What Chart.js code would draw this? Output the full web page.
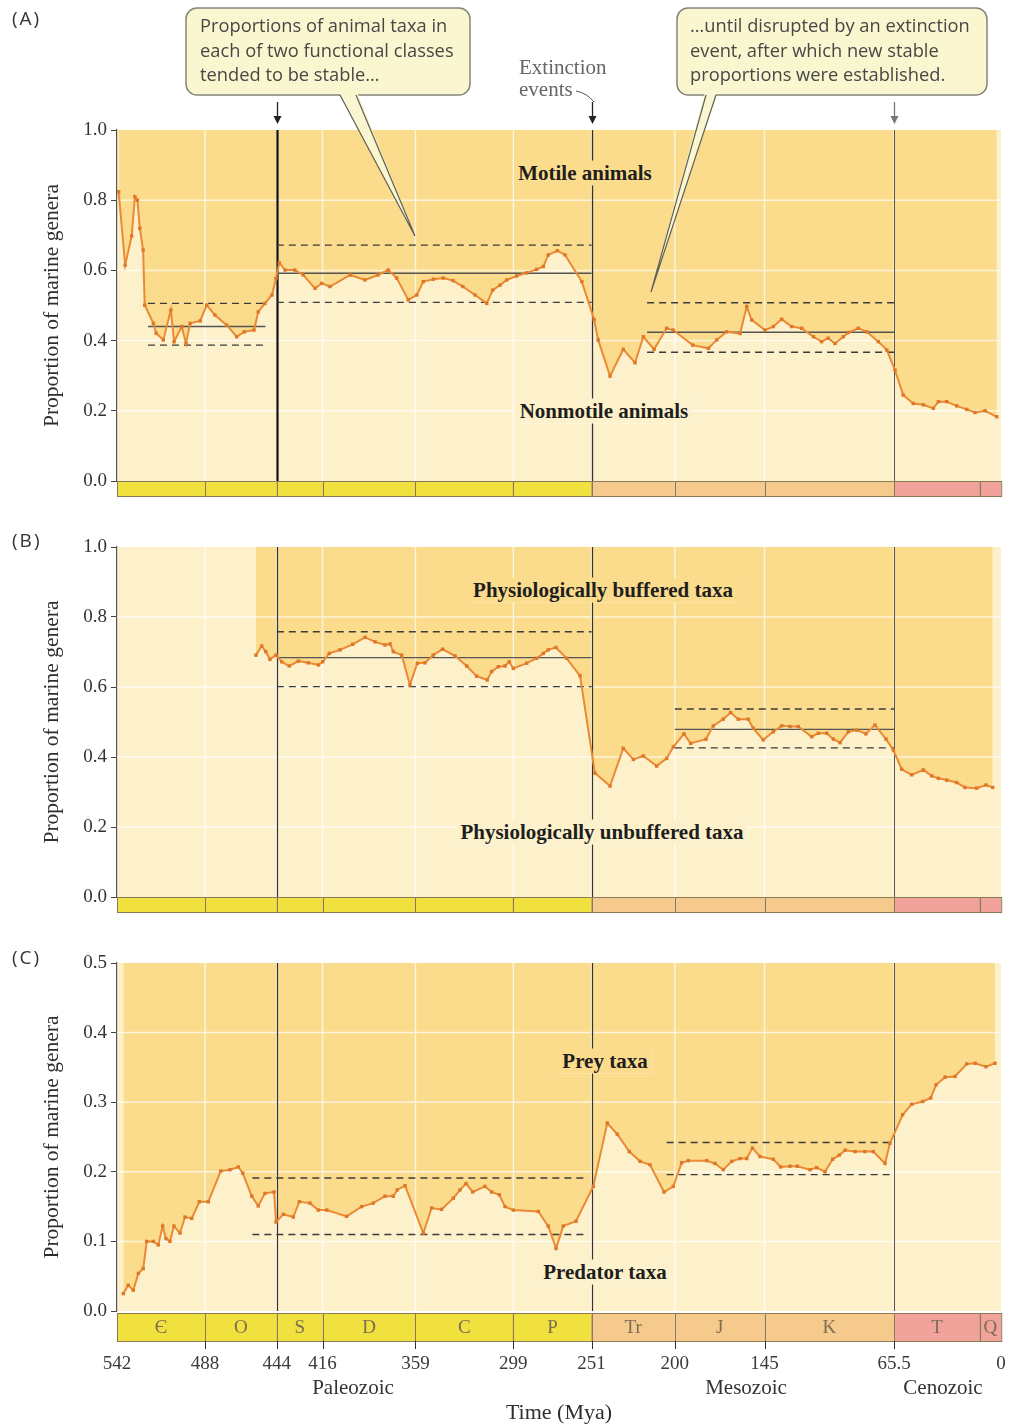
<!DOCTYPE html>
<html lang="en">
<head>
    <meta charset="UTF-8">
    <title>Functional classes of marine genera through the Phanerozoic</title>
    <script src="https://cdn.jsdelivr.net/npm/chart.js"></script>
    <style>
        body { margin: 0; background: #fff; }
        .page { position: relative; width: 1014px; height: 1427px; overflow: hidden; }
        .panel { position: absolute; left: 0; width: 1014px; }
        .tag { position: absolute; left: 12px; transform: translateY(-50%); font: 19px "Open Sans", sans-serif; letter-spacing: 2px; color: #333; }
        .series { position: absolute; transform: translate(-50%, -50%); font: bold 21px "Liberation Serif", serif; color: #1e1e1e; white-space: nowrap; padding: 0 4px; }
        .series.up { background: #fbdb8c; }
        .series.down { background: #fdf1cb; }
        .era { position: absolute; transform: translate(-50%, -50%); font: 21px "Liberation Serif", serif; color: #333; white-space: nowrap; }
        svg.notes { position: absolute; left: 0; top: 0; pointer-events: none; }
    </style>
</head>
<body>
<div class="page">
    <div class="panel" style="top:0; height:520px;"><canvas id="chartA"></canvas></div>
    <div class="panel" style="top:520px; height:420px;"><canvas id="chartB"></canvas></div>
    <div class="panel" style="top:940px; height:487px;"><canvas id="chartC"></canvas></div>

    <div class="tag" style="top:18px;">(A)</div>
    <div class="tag" style="top:540px;">(B)</div>
    <div class="tag" style="top:957px;">(C)</div>

    <div class="series up" style="left:585px; top:173px;">Motile animals</div>
    <div class="series down" style="left:604px; top:411px;">Nonmotile animals</div>
    <div class="series up" style="left:603px; top:590px;">Physiologically buffered taxa</div>
    <div class="series down" style="left:602px; top:832px;">Physiologically unbuffered taxa</div>
    <div class="series up" style="left:605px; top:1061px;">Prey taxa</div>
    <div class="series down" style="left:605px; top:1272px;">Predator taxa</div>

    <div class="era" style="left:353px; top:1387px;">Paleozoic</div>
    <div class="era" style="left:746px; top:1387px;">Mesozoic</div>
    <div class="era" style="left:943px; top:1387px;">Cenozoic</div>

    <svg class="notes" width="1014" height="320">
        <!-- left callout -->
        <rect x="186" y="8" width="284" height="87" rx="11" fill="#faf6cf" stroke="#85857a" stroke-width="1.5"/>
        <polygon points="339,92 357,92 415,236" fill="#faf6cf"/>
        <path d="M340,95 L415,236 L356,95" fill="none" stroke="#5e5e58" stroke-width="1.2"/>
        <g font-family="Open Sans, sans-serif" font-size="18.3" fill="#474747">
            <text x="200" y="32">Proportions of animal taxa in</text>
            <text x="200" y="57">each of two functional classes</text>
            <text x="200" y="81">tended to be stable…</text>
        </g>
        <!-- right callout -->
        <rect x="677" y="8" width="310" height="87" rx="11" fill="#faf6cf" stroke="#85857a" stroke-width="1.5"/>
        <polygon points="705,92 717,92 651,292" fill="#faf6cf"/>
        <path d="M706,95 L651,292 L716,95" fill="none" stroke="#5e5e58" stroke-width="1.2"/>
        <g font-family="Open Sans, sans-serif" font-size="18.3" fill="#474747">
            <text x="690" y="32">…until disrupted by an extinction</text>
            <text x="690" y="57">event, after which new stable</text>
            <text x="690" y="81">proportions were established.</text>
        </g>
        <!-- extinction events note -->
        <g font-family="Liberation Serif, serif" font-size="21" fill="#666">
            <text x="519" y="74">Extinction</text>
            <text x="519" y="96">events</text>
        </g>
        <path d="M576,91 Q587,93 594,102" fill="none" stroke="#555" stroke-width="1"/>
    </svg>
</div>

<script>
    // Geologic time scale (Mya)
    const periodStart = [542, 488, 444, 416, 359, 299, 251, 200, 145, 65.5, 13];
    const periodEnd = [488, 444, 416, 359, 299, 251, 200, 145, 65.5, 13, 0];
    const periodSymbol = ['Є', 'O', 'S', 'D', 'C', 'P', 'Tr', 'J', 'K', 'T', 'Q'];
    const periodEra = ['Pz', 'Pz', 'Pz', 'Pz', 'Pz', 'Pz', 'Mz', 'Mz', 'Mz', 'Cz', 'Cz'];
    const timeTicks = [542, 488, 444, 416, 359, 299, 251, 200, 145, 65.5, 0];
    const extinctions = [444, 251, 65.5];

    // (A) proportion of motile genera
    const motileTime = [541, 537, 533, 531, 529.5, 528, 526, 525, 519.7, 518, 513.6, 509, 507, 502.3, 499.7, 497.2, 491, 487, 482, 474.7,
        468.6, 464, 458, 455.4, 451.3, 447, 444.5, 442.5, 439, 433, 427.8, 420.6, 416.5, 411.4, 399, 390, 382, 375.7, 370.5, 363.4,
        358.2, 354.2, 348, 342, 336, 330, 322.5, 315.3, 311.6, 307.2, 303, 297, 291, 284.7, 280.6, 277.6, 272, 267.3, 257, 249.5,
        247, 239.7, 231.6, 224.4, 219.3, 212.7, 205, 201, 189, 179.4, 174.3, 168.2, 160, 155.9, 152.9, 144.7, 139.6, 134.5, 128.4, 122.2,
        115, 110, 106, 101.8, 96.7, 93.6, 87.5, 82.3, 75.2, 70, 65, 60, 53.8, 47.6, 41.5, 38.4, 33.3, 27.2, 21, 15.9, 9.8, 2.6];
    const motileShare = [0.824, 0.615, 0.698, 0.81, 0.80, 0.72, 0.658, 0.501, 0.449, 0.421, 0.402, 0.487, 0.397, 0.44, 0.392, 0.449, 0.456, 0.501, 0.473, 0.444,
        0.411, 0.425, 0.43, 0.482, 0.506, 0.53, 0.577, 0.622, 0.601, 0.601, 0.587, 0.549, 0.563, 0.554, 0.587, 0.573, 0.587, 0.601, 0.578, 0.516,
        0.53, 0.568, 0.575, 0.578, 0.571, 0.554, 0.53, 0.506, 0.544, 0.558, 0.573, 0.584, 0.593, 0.603, 0.611, 0.644, 0.656, 0.644, 0.568, 0.46,
        0.402, 0.299, 0.375, 0.337, 0.411, 0.375, 0.435, 0.43, 0.387, 0.378, 0.402, 0.425, 0.42, 0.497, 0.459, 0.43, 0.44, 0.461, 0.44, 0.435,
        0.411, 0.397, 0.407, 0.392, 0.411, 0.423, 0.435, 0.425, 0.397, 0.373, 0.316, 0.245, 0.221, 0.217, 0.207, 0.226, 0.226, 0.214, 0.204, 0.195, 0.2, 0.183];
    const motileBandStart = [523, 444, 217];
    const motileBandEnd = [451, 251, 65.5];
    const motileMean = [0.44, 0.592, 0.424];
    const motileLow = [0.387, 0.509, 0.367];
    const motileHigh = [0.506, 0.672, 0.508];

    // (B) proportion of physiologically buffered genera
    const bufferedTime = [456.8, 453.3, 450.8, 448.2, 444.5, 441, 436.4, 430.8, 424.7, 418.5, 415.9, 411.8, 405.3, 397.5, 389.9, 383.8, 377.7, 374.6, 372.6, 367.4,
        362.4, 357.9, 353.2, 348.1, 342.4, 334.8, 327.6, 321.5, 315, 312.3, 308.2, 304.1, 301.5, 299, 290.8, 284.7, 280.6, 277.6, 272.9, 266.3,
        258.1, 249, 239.7, 231.6, 225.4, 219.3, 211.1, 205, 200.9, 194.4, 190.3, 180.9, 176.4, 170.3, 165.8, 161.1, 155, 151.9, 145.8, 139.6,
        134.5, 129.4, 124.3, 116.1, 112, 106.9, 102.8, 98.7, 93.6, 88.5, 82.8, 77.3, 70.5, 66, 60.9, 54.8, 47.6, 42.5, 38.4, 33.3,
        27.2, 22.1, 14.9, 9.2, 5.1];
    const bufferedShare = [0.691, 0.717, 0.701, 0.679, 0.691, 0.672, 0.66, 0.674, 0.669, 0.663, 0.672, 0.696, 0.706, 0.722, 0.742, 0.729, 0.72, 0.723, 0.701, 0.691,
        0.606, 0.668, 0.669, 0.691, 0.708, 0.689, 0.66, 0.631, 0.62, 0.644, 0.658, 0.66, 0.672, 0.653, 0.668, 0.682, 0.696, 0.706, 0.713, 0.682,
        0.632, 0.354, 0.317, 0.425, 0.393, 0.403, 0.374, 0.396, 0.429, 0.466, 0.439, 0.451, 0.489, 0.508, 0.527, 0.508, 0.508, 0.482, 0.449, 0.472,
        0.489, 0.487, 0.487, 0.458, 0.468, 0.468, 0.451, 0.441, 0.472, 0.477, 0.466, 0.491, 0.451, 0.42, 0.365, 0.349, 0.363, 0.346, 0.339, 0.334,
        0.327, 0.313, 0.311, 0.32, 0.313];
    const bufferedBandStart = [444, 200];
    const bufferedBandEnd = [251, 65.5];
    const bufferedMean = [0.684, 0.479];
    const bufferedLow = [0.601, 0.426];
    const bufferedHigh = [0.758, 0.537];

    // (C) proportion of predator genera
    const predatorTime = [538.1, 535.1, 532, 528.9, 525.9, 523.8, 519.7, 516.7, 514, 512, 509.5, 507.1, 503.4, 500.3, 496.2, 491.5, 486, 478.4, 472.7, 467.6,
        464.9, 459.4, 455.4, 451.3, 445.7, 444.5, 440, 433.9, 430.2, 423.7, 418.6, 413.4, 401.2, 392, 384.9, 377.7, 372.6, 370.2, 365.4, 354.2,
        349.1, 343, 335.8, 331.7, 328, 323.9, 316.4, 312.3, 307.6, 304.1, 299, 283.7, 277.6, 272.8, 268.4, 260.6, 250, 241.4, 235.3, 227.9,
        221.3, 215.2, 206.6, 200.9, 195.8, 191.7, 180.4, 175.4, 170.3, 165.1, 160, 155.9, 152.4, 147.8, 139.6, 135.1, 129.4, 124.9, 117.1, 113,
        107.9, 103.2, 99.1, 95.6, 89.5, 83.4, 78.3, 71.1, 68.1, 60.3, 54.8, 48, 43.1, 39.8, 34.3, 28.2, 21, 15.9, 9.2, 3.7];
    const predatorShare = [0.025, 0.037, 0.03, 0.054, 0.061, 0.1, 0.1, 0.095, 0.122, 0.104, 0.1, 0.122, 0.112, 0.135, 0.133, 0.157, 0.157, 0.201, 0.203, 0.207,
        0.198, 0.165, 0.151, 0.169, 0.171, 0.128, 0.139, 0.135, 0.157, 0.155, 0.145, 0.145, 0.136, 0.15, 0.155, 0.165, 0.165, 0.174, 0.18, 0.112,
        0.148, 0.146, 0.162, 0.174, 0.183, 0.171, 0.179, 0.171, 0.167, 0.15, 0.145, 0.143, 0.122, 0.09, 0.122, 0.129, 0.179, 0.27, 0.254, 0.229,
        0.215, 0.21, 0.171, 0.179, 0.213, 0.216, 0.216, 0.212, 0.203, 0.215, 0.219, 0.219, 0.234, 0.222, 0.218, 0.207, 0.208, 0.208, 0.203, 0.206,
        0.2, 0.218, 0.224, 0.231, 0.229, 0.229, 0.229, 0.212, 0.241, 0.282, 0.297, 0.301, 0.306, 0.325, 0.336, 0.337, 0.355, 0.356, 0.351, 0.356];
    const predatorBandStart = [459, 205];
    const predatorBandEnd = [253, 65.5];
    const predatorMean = [null, null]; // no mean line drawn in (C)
    const predatorLow = [0.11, 0.196];
    const predatorHigh = [0.191, 0.242];

    const eraColor = { Pz: '#f1e13f', Mz: '#f6c98d', Cz: '#f1a39b' };
    const serif = 'Liberation Serif, serif';

    function points(t, v) {
        return t.map((x, i) => ({ x: x, y: v[i] }));
    }

    function refLine(from, to, y, dash) {
        return {
            data: [{ x: from, y: y }, { x: to, y: y }],
            borderColor: dash.length ? '#3c3c3c' : '#555',
            borderWidth: 1.4,
            borderDash: dash,
            pointRadius: 0,
            fill: false
        };
    }

    function bandSets(start, end, mean, low, high) {
        const sets = [];
        start.forEach((s, i) => {
            if (mean[i] !== null) sets.push(refLine(s, end[i], mean[i], []));
            sets.push(refLine(s, end[i], low[i], [7, 5]));
            sets.push(refLine(s, end[i], high[i], [7, 5]));
        });
        return sets;
    }

    // paper background, white grid, extinction lines, period bar
    const geoPlugin = {
        id: 'geo',
        beforeDraw(chart) {
            const { ctx, chartArea: a } = chart;
            ctx.save();
            ctx.fillStyle = '#fdf1cb';
            ctx.fillRect(a.left, a.top, a.right - a.left, a.bottom - a.top);
            ctx.restore();
        },
        beforeDatasetsDraw(chart, args, o) {
            const { ctx, chartArea: a, scales: { x, y } } = chart;
            ctx.save();
            ctx.strokeStyle = 'rgba(255,255,255,0.7)';
            ctx.lineWidth = 1.5;
            ctx.beginPath();
            y.ticks.forEach(t => {
                if (t.value > y.min && t.value < y.max) {
                    const py = y.getPixelForValue(t.value);
                    ctx.moveTo(a.left, py); ctx.lineTo(a.right, py);
                }
            });
            timeTicks.forEach(t => {
                if (t > 0 && t < 542) {
                    const px = x.getPixelForValue(t);
                    ctx.moveTo(px, a.top); ctx.lineTo(px, a.bottom);
                }
            });
            ctx.stroke();
            extinctions.forEach((t, i) => {
                const px = Math.round(x.getPixelForValue(t)) + 0.5;
                ctx.strokeStyle = o.lineColors[i];
                ctx.lineWidth = o.lineWidths[i];
                ctx.beginPath();
                ctx.moveTo(px, a.top); ctx.lineTo(px, a.bottom);
                ctx.stroke();
            });
            ctx.restore();
        },
        afterDraw(chart, args, o) {
            const { ctx, chartArea: a, scales: { x } } = chart;
            const top = a.bottom + o.barGap;
            const h = o.barHeight;
            ctx.save();
            periodStart.forEach((s, i) => {
                const x0 = x.getPixelForValue(s);
                const x1 = x.getPixelForValue(periodEnd[i]);
                ctx.fillStyle = eraColor[periodEra[i]];
                ctx.fillRect(x0, top, x1 - x0, h);
                ctx.strokeStyle = '#8a7a58';
                ctx.lineWidth = 1;
                ctx.strokeRect(Math.round(x0) + 0.5, top + 0.5, x1 - x0, h);
                if (o.symbols) {
                    ctx.fillStyle = '#7d6d52';
                    ctx.font = '19px ' + serif;
                    ctx.textAlign = 'center';
                    ctx.textBaseline = 'middle';
                    ctx.fillText(periodSymbol[i], (x0 + x1) / 2, top + h / 2 + 1);
                }
            });
            if (o.symbols) {
                // small tick marks below the time bar
                ctx.strokeStyle = '#333';
                ctx.beginPath();
                timeTicks.forEach(t => {
                    if (t > 0 && t < 542) {
                        const px = Math.round(x.getPixelForValue(t)) + 0.5;
                        ctx.moveTo(px, top + h); ctx.lineTo(px, top + h + 8);
                    }
                });
                ctx.stroke();
            }
            if (o.arrows) {
                extinctions.forEach((t, i) => {
                    const px = Math.round(x.getPixelForValue(t)) + 0.5;
                    const c = i === 2 ? '#777' : '#222';
                    ctx.strokeStyle = c; ctx.fillStyle = c; ctx.lineWidth = 1.3;
                    ctx.beginPath();
                    ctx.moveTo(px, a.top - 28); ctx.lineTo(px, a.top - 12);
                    ctx.stroke();
                    ctx.beginPath();
                    ctx.moveTo(px - 4, a.top - 14); ctx.lineTo(px + 4, a.top - 14); ctx.lineTo(px, a.top - 6);
                    ctx.closePath(); ctx.fill();
                });
            }
            ctx.restore();
        }
    };

    function makePanel(id, cfg) {
        const main = {
            data: points(cfg.time, cfg.share),
            borderColor: '#ea8a35',
            borderWidth: 2,
            pointStyle: 'rect',
            pointRadius: 2.4,
            pointBackgroundColor: '#de7727',
            pointBorderWidth: 0,
            fill: 'end',
            backgroundColor: '#fbdb8c',
            tension: 0
        };
        return new Chart(document.getElementById(id), {
            type: 'line',
            data: { datasets: [main].concat(cfg.bands) },
            options: {
                animation: false,
                responsive: true,
                maintainAspectRatio: false,
                events: [],
                layout: { autoPadding: false, padding: { top: cfg.padTop, right: 13, left: 0, bottom: 0 } },
                plugins: {
                    legend: { display: false },
                    tooltip: { enabled: false },
                    filler: { drawTime: 'beforeDatasetsDraw' },
                    geo: cfg.geo
                },
                scales: {
                    x: {
                        type: 'linear', reverse: true, min: 0, max: 542,
                        afterBuildTicks: s => { s.ticks = timeTicks.map(v => ({ value: v })); },
                        afterFit: s => { s.height = cfg.axisHeight; s.paddingLeft = 0; s.paddingRight = 0; },
                        grid: { display: false, drawTicks: false },
                        border: { display: false },
                        ticks: {
                            display: cfg.showTime, padding: 42, autoSkip: false, maxRotation: 0,
                            color: '#3a3a3a', font: { family: serif, size: 19 },
                            callback: v => String(v)
                        },
                        title: {
                            display: cfg.showTime, text: 'Time (Mya)', color: '#2e2e2e',
                            font: { family: serif, size: 22 }, padding: { top: 0, bottom: 1 }
                        }
                    },
                    y: {
                        min: 0, max: cfg.yMax,
                        afterFit: s => { s.width = 117; },
                        ticks: {
                            stepSize: cfg.yStep, padding: 4, color: '#333',
                            font: { family: serif, size: 19 },
                            callback: v => v.toFixed(1)
                        },
                        grid: { display: true, drawOnChartArea: false, drawTicks: true, tickLength: 6, tickColor: '#444' },
                        border: { display: true, color: '#555', width: 1.2 },
                        title: {
                            display: true, text: 'Proportion of marine genera', color: '#2e2e2e',
                            font: { family: serif, size: 21.5 }, padding: { top: 39, bottom: 0 }
                        }
                    }
                }
            },
            plugins: [geoPlugin]
        });
    }

    makePanel('chartA', {
        time: motileTime, share: motileShare,
        bands: bandSets(motileBandStart, motileBandEnd, motileMean, motileLow, motileHigh),
        padTop: 130, axisHeight: 39, showTime: false, yMax: 1, yStep: 0.2,
        geo: { lineColors: ['#111', '#333', '#555'], lineWidths: [2.2, 1.3, 1], barGap: 0, barHeight: 15, symbols: false, arrows: true }
    });

    makePanel('chartB', {
        time: bufferedTime, share: bufferedShare,
        bands: bandSets(bufferedBandStart, bufferedBandEnd, bufferedMean, bufferedLow, bufferedHigh),
        padTop: 27, axisHeight: 43, showTime: false, yMax: 1, yStep: 0.2,
        geo: { lineColors: ['#333', '#333', '#555'], lineWidths: [1.2, 1.2, 1], barGap: 0, barHeight: 15, symbols: false, arrows: false }
    });

    makePanel('chartC', {
        time: predatorTime, share: predatorShare,
        bands: bandSets(predatorBandStart, predatorBandEnd, predatorMean, predatorLow, predatorHigh),
        padTop: 23, axisHeight: 116, showTime: true, yMax: 0.5, yStep: 0.1,
        geo: { lineColors: ['#333', '#333', '#555'], lineWidths: [1.2, 1.2, 1], barGap: 2, barHeight: 28, symbols: true, arrows: false }
    });
</script>
</body>
</html>
